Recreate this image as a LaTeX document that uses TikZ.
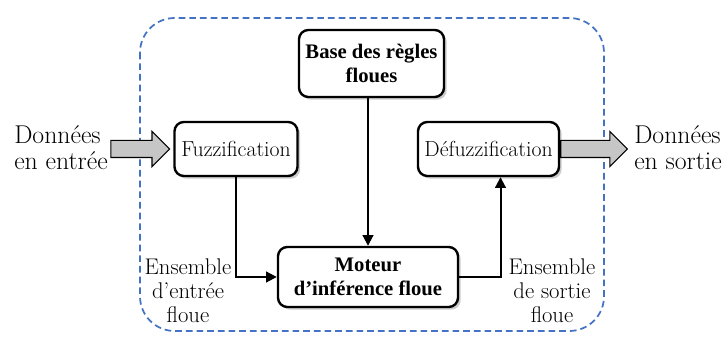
\documentclass[tikz,border=0pt]{standalone}
\usepackage{fontspec}
\newfontfamily\rulesfont{Liberation Serif}
\usetikzlibrary{arrows.meta,shapes.arrows,shadows,calc}
\definecolor{frameblue}{HTML}{4472C4}

\tikzset{
  block/.style={draw, line width=1.8pt, rounded corners=7pt, fill=white, align=center,
    inner sep=2pt, drop shadow={shadow xshift=2pt, shadow yshift=-2pt, opacity=0.4}},
  plainbox/.style={block, font=\fontsize{16.3}{18}\selectfont},
  boldbox/.style={block, font=\rulesfont\bfseries\fontsize{15.5}{18.5}\selectfont},
  sidetext/.style={align=center, font=\fontsize{17}{18}\selectfont},
  outertext/.style={align=left, anchor=west, inner sep=0pt, font=\fontsize{19.3}{19.5}\selectfont},
  flow/.style={line width=1.5pt, -{Triangle[length=8pt,width=8pt]}},
  bigarrow/.style={single arrow, draw, line width=0.8pt, fill=gray!45, inner sep=6pt,
    single arrow head extend=6.75pt, minimum height=44pt}
}

\begin{document}
\begin{tikzpicture}[x=0.75pt,y=-0.75pt]
  \useasboundingbox (0,0) rectangle (726,338);

  % dashed frame
  \draw[frameblue, line width=1.3pt, dash pattern=on 5pt off 3pt, rounded corners=26pt]
    (140,18) rectangle (604,331);

  % blocks
  \node[boldbox, minimum width=108.75pt, minimum height=50.25pt] (base) at (371.5,63.5)
    {Base des règles\\floues};
  \node[plainbox, minimum width=92.25pt, minimum height=40.5pt] (fuzz) at (236,149)
    {Fuzzification};
  \node[plainbox, minimum width=105.75pt, minimum height=40.5pt] (defuzz) at (488.5,149)
    {Défuzzification};
  \node[boldbox, minimum width=135pt, minimum height=45pt] (moteur) at (368,277)
    {Moteur\\d’inférence floue};

  % input / output
  \node[bigarrow, anchor=tip] (inarrow) at ([xshift=-2.25pt]fuzz.west) {};
  \node[bigarrow, minimum height=50pt, anchor=tail] (outarrow) at (defuzz.east) {};
  \node[outertext] (inlabel) at (14,148) {Données\\en entrée};
  \node[outertext] (outlabel) at (634,148) {Données\\en sortie};

  % fuzzy sets
  \node[sidetext] (inset) at (188,291) {Ensemble\\d’entrée\\floue};
  \node[sidetext] (outset) at (552,291) {Ensemble\\de sortie\\floue};

  % connectors
  \draw[flow] (fuzz.south) |- (moteur.west);
  \draw[flow] (moteur.east) -| ([xshift=9pt]defuzz.south);
  \draw[flow] (base.south -| moteur.north) -- (moteur.north);
\end{tikzpicture}
\end{document}
